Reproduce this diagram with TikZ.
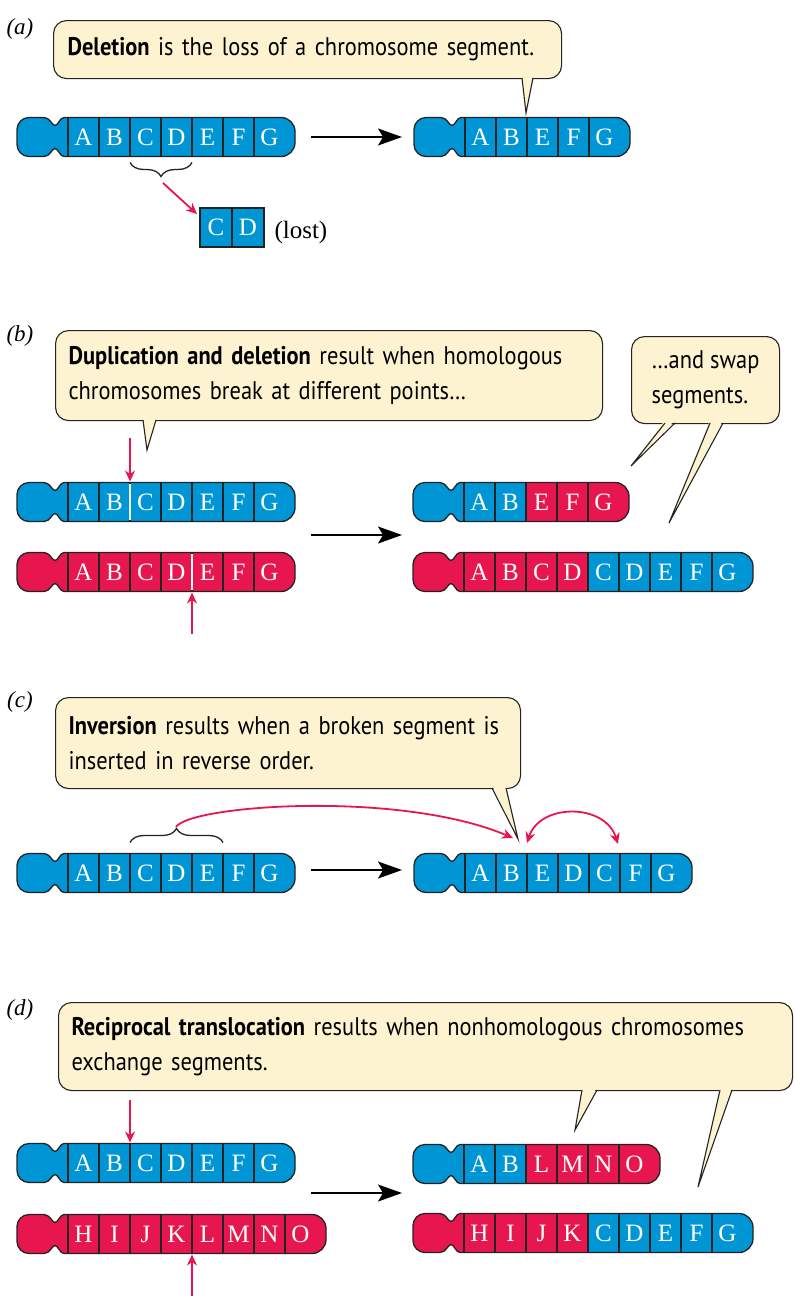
\documentclass[tikz,border=0pt]{standalone}
\usepackage{fontspec}
\setmainfont{Liberation Serif}
\newfontfamily\calfont[FakeStretch=0.88]{PT Sans}
\usetikzlibrary{arrows.meta,decorations.pathreplacing}
\definecolor{chblue}{RGB}{0,150,214}
\definecolor{chred}{RGB}{232,22,78}
\definecolor{cream}{RGB}{254,243,208}
\definecolor{outl}{RGB}{35,35,35}
\newcommand{\cw}{31}
% #1 name, #2 x0, #3 yc, #4 lobe colour, #5 list letter/colour
\newcommand{\chromo}[5]{%
\begin{scope}[shift={(#2,#3)}]
\filldraw[chrline,fill=#4] (0,-19.5) -- (-4,-19.5) .. controls (-8,-19.5) and (-10,-11.5) .. (-13,-11.5) .. controls (-16,-11.5) and (-18,-19.5) .. (-24,-19.5) -- (-39,-19.5) .. controls (-45.6,-19.5) and (-51,-14.1) .. (-51,-7.5) -- (-51,7.5) .. controls (-51,14.1) and (-45.6,19.5) .. (-39,19.5) -- (-24,19.5) .. controls (-18,19.5) and (-16,11.5) .. (-13,11.5) .. controls (-10,11.5) and (-8,19.5) .. (-4,19.5) -- (0,19.5);
\foreach \lt/\cc [count=\i] in {#5} {
  \pgfmathsetmacro\xa{(\i-1)*\cw}
  \node[cell,fill=\cc] (#1-\i) at ({\xa+15.5},0) {\lt};
  \xdef\lastc{\cc}\xdef\ncells{\i}
}
\pgfmathsetmacro\chL{\ncells*\cw+10}
\fill[\lastc] ({\chL-16},-19.5) -- ({\chL-14},-19.5) .. controls ({\chL-6.3},-19.5) and (\chL,-13.2) .. (\chL,-5.5) -- (\chL,5.5) .. controls (\chL,13.2) and ({\chL-6.3},19.5) .. ({\chL-14},19.5) -- ({\chL-16},19.5) -- cycle;
\foreach \i in {1,...,\ncells} {\draw[chrline] (#1-\i.north west) -- (#1-\i.south west);}
\draw[chrline] (0,-19.5) -- ({\chL-14},-19.5) .. controls ({\chL-6.3},-19.5) and (\chL,-13.2) .. (\chL,-5.5) -- (\chL,5.5) .. controls (\chL,13.2) and ({\chL-6.3},19.5) .. ({\chL-14},19.5) -- (0,19.5);
\end{scope}}
\begin{document}
\begin{tikzpicture}[x=1pt,y=-1pt,
  chrline/.style={draw=outl,line width=1.3pt},
  cell/.style={minimum width=31pt,minimum height=39pt,inner sep=0pt,outer sep=0pt,text=white,font=\fontsize{25}{26}\selectfont},
  lostcell/.style={draw=outl,line width=1.3pt,fill=chblue,minimum width=32pt,minimum height=39pt,inner sep=0pt,outer sep=0pt,text=white,font=\fontsize{25}{26}\selectfont},
  callout/.style={draw=outl,fill=cream,line width=1.1pt,rounded corners=13pt,anchor=north west,inner xsep=14pt,inner ysep=0pt,align=left,font=\calfont\fontsize{25.5}{35}\selectfont},
  tailline/.style={draw=outl,line width=1.1pt,line join=miter},
  bigarrow/.style={draw=black,line width=1.6pt,-{Stealth[length=24pt,width=17pt,inset=5pt]}},
  redarrow/.style={draw=chred,line width=1.8pt,-{Stealth[length=11pt,width=10pt]}},
  panel/.style={font=\fontsize{23}{25}\selectfont\itshape},
  bracestyle/.style={draw=outl,line width=1.3pt,decorate,decoration={brace,amplitude=14pt}},
  breakline/.style={draw=white,line width=2.5pt}]
\useasboundingbox (0,0) rectangle (795,1296);

% ---------------- (a)
\node[panel] (pa) at (20,29) {(a)};
\node[callout,minimum width=508pt,minimum height=58pt,text width=480pt] (callA) at (53,20) {\textbf{Deletion} is the loss of a chromosome segment.};
\coordinate (tA) at (526,113);
\fill[cream] (522,75) -- (tA) -- (533,75) -- cycle;
\draw[tailline] (522,78) -- (tA) -- (533,78);
\chromo{a1}{68}{137}{chblue}{A/chblue,B/chblue,C/chblue,D/chblue,E/chblue,F/chblue,G/chblue}
\chromo{a2}{465}{137}{chblue}{A/chblue,B/chblue,E/chblue,F/chblue,G/chblue}
\coordinate (arAs) at (311,137); \coordinate (arAe) at (402,137);
\draw[bigarrow] (arAs) -- (arAe);
\draw[bracestyle] ([yshift=-6pt]a1-4.south east) -- ([yshift=-6pt]a1-3.south west);
\node[lostcell] (lc) at (216,227.5) {C};
\node[lostcell] (ld) at (248,227.5) {D};
\node[anchor=west,font=\fontsize{25}{26}\selectfont] (lost) at (271,232) {(lost)};
\coordinate (bA) at (163,183);
\draw[redarrow] (bA) -- ([xshift=-3pt,yshift=-6pt]lc.north west);

% ---------------- (b)
\node[panel] (pb) at (20,336) {(b)};
\node[callout,minimum width=547pt,minimum height=90pt,text width=521pt,inner xsep=13pt] (callB) at (55,330) {\textbf{Duplication and deletion} result when homologous\\chromosomes break at different points\ldots};
\coordinate (tB) at (147,450);
\fill[cream] (143,417) -- (tB) -- (156,417) -- cycle;
\draw[tailline] (143,420) -- (tB) -- (156,420);
\node[callout,minimum width=148pt,minimum height=87pt,inner xsep=12pt] (callB2) at (631,336) {\ldots and swap\\segments.};
\coordinate (tB1) at (631,466);
\coordinate (tB2) at (669,523);
\fill[cream] (665,420) -- (tB1) -- (675,420) -- cycle;
\fill[cream] (710,420) -- (tB2) -- (723,420) -- cycle;
\draw[tailline] (665,423) -- (tB1) -- (675,423);
\draw[tailline] (710,423) -- (tB2) -- (723,423);
\chromo{b1}{68}{502}{chblue}{A/chblue,B/chblue,C/chblue,D/chblue,E/chblue,F/chblue,G/chblue}
\chromo{b2}{68}{572}{chred}{A/chred,B/chred,C/chred,D/chred,E/chred,F/chred,G/chred}
\draw[breakline] ([yshift=-1.5pt]b1-3.north west) -- ([yshift=1.5pt]b1-3.south west);
\draw[breakline] ([yshift=-1.5pt]b2-5.north west) -- ([yshift=1.5pt]b2-5.south west);
\coordinate (rb1) at (130,438);
\coordinate (rb2) at (192,634);
\draw[redarrow] (rb1) -- ([yshift=1pt]b1-3.north west);
\draw[redarrow] (rb2) -- ([yshift=-1pt]b2-5.south west);
\coordinate (arBs) at (311,535); \coordinate (arBe) at (402,535);
\draw[bigarrow] (arBs) -- (arBe);
\chromo{b3}{464}{502}{chblue}{A/chblue,B/chblue,E/chred,F/chred,G/chred}
\chromo{b4}{464}{572}{chred}{A/chred,B/chred,C/chred,D/chred,C/chblue,D/chblue,E/chblue,F/chblue,G/chblue}

% ---------------- (c)
\node[panel] (pc) at (20,702) {(c)};
\node[callout,minimum width=465pt,minimum height=91pt,text width=439pt,inner xsep=13pt] (callC) at (55,697) {\textbf{Inversion} results when a broken segment is\\inserted in reverse order.};
\coordinate (tC) at (518,839);
\fill[cream] (492,785) -- (tC) -- (506,785) -- cycle;
\draw[tailline] (492,788) -- (tC) -- (506,788);
\chromo{c1}{68}{873}{chblue}{A/chblue,B/chblue,C/chblue,D/chblue,E/chblue,F/chblue,G/chblue}
\chromo{c2}{465}{873}{chblue}{A/chblue,B/chblue,E/chblue,D/chblue,C/chblue,F/chblue,G/chblue}
\draw[bracestyle] ([yshift=11pt]c1-3.north west) -- ([yshift=11pt]c1-5.north east);
\coordinate (arCs) at (311,870); \coordinate (arCe) at (402,870);
\draw[bigarrow] (arCs) -- (arCe);
\coordinate (bC) at (176,827);
\coordinate (eC) at (513,838);
\draw[redarrow] (bC) .. controls (190,805) and (400,790) .. (eC);
\coordinate (dC1) at (527,843);
\coordinate (dC2) at (618,844);
\draw[redarrow,{Stealth[length=11pt,width=10pt]}-{Stealth[length=11pt,width=10pt]}] (dC1) .. controls (540,803) and (605,803) .. (dC2);

% ---------------- (d)
\node[panel] (pd) at (20,1010) {(d)};
\node[callout,minimum width=734pt,minimum height=88pt,text width=708pt,inner xsep=13pt] (callD) at (58,1002) {\textbf{Reciprocal translocation} results when nonhomologous chromosomes\\exchange segments.};
\coordinate (tD1) at (575,1130);
\coordinate (tD2) at (698,1187);
\fill[cream] (582,1087) -- (tD1) -- (597,1087) -- cycle;
\fill[cream] (720,1087) -- (tD2) -- (732,1087) -- cycle;
\draw[tailline] (582,1090) -- (tD1) -- (597,1090);
\draw[tailline] (720,1090) -- (tD2) -- (732,1090);
\chromo{d1}{68}{1163}{chblue}{A/chblue,B/chblue,C/chblue,D/chblue,E/chblue,F/chblue,G/chblue}
\chromo{d2}{68}{1234}{chred}{H/chred,I/chred,J/chred,K/chred,L/chred,M/chred,N/chred,O/chred}
\coordinate (rd1) at (130,1100);
\coordinate (rd2) at (192,1296);
\draw[redarrow] (rd1) -- ([yshift=1pt]d1-3.north west);
\draw[redarrow] (rd2) -- ([yshift=-1pt]d2-5.south west);
\coordinate (arDs) at (311,1193); \coordinate (arDe) at (402,1193);
\draw[bigarrow] (arDs) -- (arDe);
\chromo{d3}{464}{1164}{chblue}{A/chblue,B/chblue,L/chred,M/chred,N/chred,O/chred}
\chromo{d4}{464}{1233}{chred}{H/chred,I/chred,J/chred,K/chred,C/chblue,D/chblue,E/chblue,F/chblue,G/chblue}
\end{tikzpicture}
\end{document}
